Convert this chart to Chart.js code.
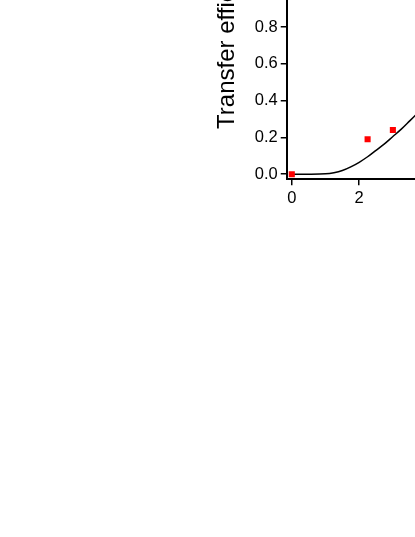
<!DOCTYPE html>
<html>
<head>
<meta charset="utf-8">
<script src="https://cdn.jsdelivr.net/npm/chart.js@4/dist/chart.umd.min.js"></script>
<style>
  html, body { margin: 0; padding: 0; background: #fff; overflow: hidden; width: 415px; height: 537px; }
  #wrap { position: absolute; left: 200px; top: -129px; width: 460px; height: 340px; }
</style>
</head>
<body>
<div id="wrap"><canvas id="chart" width="460" height="340"></canvas></div>
<script>
// measured points (red squares)
const pointX = [0, 2.25, 3.0];
const pointY = [0, 0.19, 0.24];

// fitted curve
const curveX = [0, 0.5, 1.0, 1.25, 1.5, 1.75, 2.0, 2.25, 2.5, 2.75, 3.0, 3.25, 3.5, 3.75, 4.0];
const curveY = [0, 0, 0.002, 0.008, 0.02, 0.04, 0.065, 0.095, 0.13, 0.165, 0.205, 0.245, 0.29, 0.335, 0.38];

const xTicks = [0, 2, 4, 6, 8, 10];
const yTicks = [0, 0.2, 0.4, 0.6, 0.8, 1.0, 1.2, 1.4];

const font = "'Liberation Sans', Arial, sans-serif";

function toXY(xs, ys) {
    return xs.map((x, i) => ({ x: x, y: ys[i] }));
}

const ctx = document.querySelector("#chart").getContext("2d");
const chart = new Chart(ctx, {
    type: 'scatter',
    data: {
        datasets: [{
            label: 'fit',
            data: toXY(curveX, curveY),
            showLine: true,
            borderColor: '#000',
            borderWidth: 1.5,
            pointRadius: 0,
            tension: 0.3,
            order: 2
        }, {
            label: 'data',
            data: toXY(pointX, pointY),
            pointStyle: 'rect',
            pointRadius: 4.3,
            backgroundColor: '#ff0000',
            borderColor: '#ff0000',
            borderWidth: 0,
            order: 1
        }]
    },
    options: {
        responsive: false,
        animation: false,
        layout: { padding: { left: 3, top: 0, right: 0, bottom: 0 } },
        plugins: { legend: { display: false }, tooltip: { enabled: false } },
        scales: {
            x: {
                type: 'linear',
                min: -0.15,
                max: 10.8,
                afterBuildTicks: s => { s.ticks = xTicks.map(v => ({ value: v })); },
                border: { color: '#000', width: 2 },
                grid: { drawOnChartArea: false, drawTicks: true, tickLength: 6, color: '#000', lineWidth: 1.5 },
                ticks: { color: '#000', padding: 3, font: { family: font, size: 16.5 }, callback: v => v }
            },
            y: {
                type: 'linear',
                min: -0.027,
                max: 1.578,
                afterBuildTicks: s => { s.ticks = yTicks.map(v => ({ value: v })); },
                border: { color: '#000', width: 2 },
                grid: { drawOnChartArea: false, drawTicks: true, tickLength: 6, color: '#000', lineWidth: 1.5 },
                ticks: { color: '#000', padding: 3, font: { family: font, size: 16.5 }, callback: v => v.toFixed(1) },
                title: { display: true, text: 'Transfer efficiency', color: '#000', font: { family: font, size: 24 }, padding: 10 }
            }
        }
    }
});
</script>
</body>
</html>
